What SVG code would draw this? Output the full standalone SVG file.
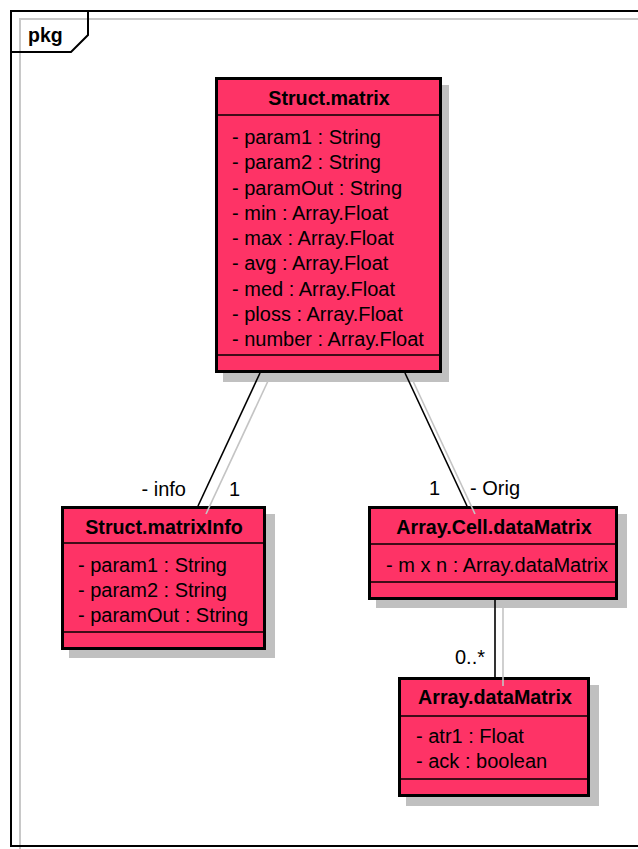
<svg xmlns="http://www.w3.org/2000/svg" width="638" height="849" viewBox="0 0 638 849">
<style>
text{font-family:"Liberation Sans",Arial,sans-serif;font-size:20px;fill:#000}
.t{font-weight:bold;text-anchor:middle;font-size:19.7px}
.box{fill:#fe3366;stroke:#000;stroke-width:3}
.sh{fill:#c0c0c0}
.sep{stroke:#000;stroke-width:1.4}
.ln{stroke:#000;stroke-width:1.6;fill:none}
.lg{stroke:#c4c4c4;stroke-width:1.6;fill:none}
</style>
<rect x="0" y="0" width="638" height="849" fill="#fff"/>
<g id="frame">
<path d="M20,849 V19 H640" fill="none" stroke="#c8c8c8" stroke-width="2"/>
<path d="M640,11 H11 V846 H640" fill="none" stroke="#000" stroke-width="2"/>
<path d="M11,52 H71 L88,35 V11" fill="none" stroke="#000" stroke-width="2"/>
<text x="28" y="42" style="font-weight:bold;font-size:19.5px">pkg</text>
</g>
<g id="StructMatrix">
<rect class="sh" x="223" y="85" width="226" height="297"/>
<rect class="box" x="216.5" y="78.5" width="224" height="293"/>
<line class="sep" x1="216" y1="115" x2="441" y2="115"/>
<line class="sep" x1="216" y1="355" x2="441" y2="355"/>
<text class="t" x="329" y="105">Struct.matrix</text>
<text x="232" y="144">- param1 : String</text>
<text x="232" y="169.3">- param2 : String</text>
<text x="232" y="194.5">- paramOut : String</text>
<text x="232" y="219.8">- min : Array.Float</text>
<text x="232" y="245">- max : Array.Float</text>
<text x="232" y="270.3">- avg : Array.Float</text>
<text x="232" y="295.5">- med : Array.Float</text>
<text x="232" y="320.8">- ploss : Array.Float</text>
<text x="232" y="346">- number : Array.Float</text>
</g>
<g id="StructMatrixInfo">
<rect class="sh" x="69" y="514" width="206" height="144"/>
<rect class="box" x="62.5" y="507.5" width="202" height="141"/>
<line class="sep" x1="62" y1="543" x2="265" y2="543"/>
<line class="sep" x1="62" y1="632" x2="265" y2="632"/>
<text class="t" x="164" y="534">Struct.matrixInfo</text>
<text x="78" y="572">- param1 : String</text>
<text x="78" y="597">- param2 : String</text>
<text x="78" y="622">- paramOut : String</text>
</g>
<g id="ArrayCellDataMatrix">
<rect class="sh" x="376" y="514" width="251" height="94"/>
<rect class="box" x="369.5" y="507.5" width="247" height="91"/>
<line class="sep" x1="369" y1="544" x2="617" y2="544"/>
<line class="sep" x1="369" y1="582" x2="617" y2="582"/>
<text class="t" x="494" y="534">Array.Cell.dataMatrix</text>
<text x="386" y="572">- m x n : Array.dataMatrix</text>
</g>
<g id="ArrayDataMatrix">
<rect class="sh" x="406" y="685" width="193" height="121"/>
<rect class="box" x="399.5" y="678.5" width="189" height="117"/>
<line class="sep" x1="399" y1="716" x2="589" y2="716"/>
<line class="sep" x1="399" y1="779" x2="589" y2="779"/>
<text class="t" x="495" y="704">Array.dataMatrix</text>
<text x="416" y="743">- atr1 : Float</text>
<text x="416" y="768">- ack : boolean</text>
</g>
<g id="connectors">
<line class="lg" x1="268" y1="381" x2="206" y2="514"/>
<line class="ln" x1="260" y1="373" x2="198" y2="506"/>
<line class="lg" x1="413" y1="381" x2="475" y2="514"/>
<line class="ln" x1="405" y1="373" x2="467" y2="506"/>
<line class="lg" x1="503" y1="608" x2="503" y2="686"/>
<line class="ln" x1="495" y1="600" x2="495" y2="677"/>
<text x="186" y="496" text-anchor="end">- info</text>
<text x="229" y="496">1</text>
<text x="429" y="495">1</text>
<text x="470" y="495">- Orig</text>
<text x="455" y="664">0..*</text>
</g>
</svg>
